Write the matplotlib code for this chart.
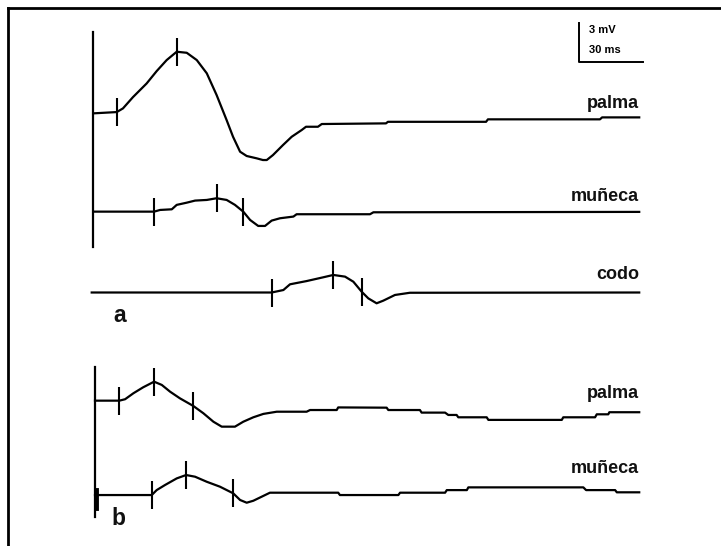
import numpy as np
import matplotlib
matplotlib.use("Agg")
import matplotlib.pyplot as plt
from matplotlib.lines import Line2D

# ---------------- data (time in ms, amplitude in mV) ----------------
palma_a_t = [0, 11.0, 13.9, 18.6, 25.0, 29.7, 34.4, 39.1, 43.8, 48.5, 53.2, 57.8, 62.5, 65.5,
             68.8, 71.9, 76.6, 79.5, 81.3, 84.2, 88.9, 93.0, 97.7, 99.7, 105.3, 107.1, 137.2,
             138.1, 184.1, 185.0, 237.5, 238.5, 255.9]
palma_a_v = [0, 0.1, 0.38, 1.25, 2.30, 3.25, 4.10, 4.74, 4.66, 4.10, 3.08, 1.41, -0.52, -1.80,
             -2.95, -3.28, -3.46, -3.59, -3.59, -3.21, -2.44, -1.80, -1.28, -1.03, -1.03, -0.82,
             -0.77, -0.65, -0.65, -0.46, -0.46, -0.31, -0.31]
palma_a_marks = [11.0, 39.1]

muneca_a_t = [0, 28.5, 31.3, 36.8, 39.1, 43.8, 47.7, 53.2, 57.8, 62.5, 66.4, 70.3, 73.5, 77.3,
              80.5, 83.6, 87.5, 93.8, 95.3, 129.7, 131.3, 255.9]
muneca_a_v = [0, 0, 0.13, 0.18, 0.52, 0.69, 0.85, 0.90, 1.03, 0.90, 0.52, 0, -0.64, -1.10,
              -1.10, -0.69, -0.51, -0.38, -0.20, -0.20, -0.05, -0.02]
muneca_a_marks = [28.5, 57.8, 70.3]

codo_t = [-0.75, 83.6, 89.1, 92.2, 100.0, 107.8, 112.5, 118.0, 121.9, 125.8, 128.9, 132.8,
          135.9, 141.4, 148.4, 255.9]
codo_v = [0, 0, 0.19, 0.63, 0.88, 1.17, 1.35, 1.22, 0.83, 0.06, -0.45, -0.83, -0.63, -0.19,
          -0.02, 0]
codo_marks = [83.6, 112.5, 125.8]

palma_b_t = [0.8, 12.2, 14.9, 18.8, 23.4, 28.5, 32.1, 36.0, 40.6, 46.9, 51.6, 56.3, 60.2, 66.4,
             70.3, 75.0, 79.7, 86.0, 100.0, 101.6, 114.1, 114.8, 137.5, 138.3, 153.1, 153.9,
             164.9, 166.4, 170.3, 171.1, 184.4, 185.2, 219.6, 220.3, 235.2, 236.0, 241.4, 241.9,
             255.9]
palma_b_v = [0, 0, 0.11, 0.57, 1.03, 1.46, 1.21, 0.69, 0.18, -0.41, -0.97, -1.62, -2.00, -2.00,
             -1.62, -1.28, -1.02, -0.85, -0.85, -0.72, -0.72, -0.52, -0.54, -0.72, -0.72, -0.92,
             -0.92, -1.10, -1.10, -1.28, -1.28, -1.48, -1.48, -1.28, -1.28, -1.05, -1.05, -0.89,
             -0.89]
palma_b_marks = [12.2, 28.5, 46.9]

muneca_b_t = [0.8, 27.4, 29.7, 33.6, 39.1, 43.5, 47.7, 53.2, 59.4, 65.6, 68.8, 71.9, 75.0, 78.9,
              82.8, 114.8, 115.6, 143.0, 143.8, 164.9, 165.7, 175.1, 175.8, 229.7, 231.0, 244.6,
              245.4, 255.9]
muneca_b_v = [0, 0, 0.38, 0.77, 1.28, 1.54, 1.41, 1.02, 0.64, 0.13, -0.38, -0.59, -0.44, -0.13,
              0.18, 0.18, 0, 0, 0.18, 0.18, 0.38, 0.38, 0.59, 0.59, 0.38, 0.38, 0.21, 0.21]
muneca_b_marks = [27.4, 43.5, 65.6]

labels = ["palma", "muñeca", "codo", "palma", "muñeca"]
scale_mv = 3
scale_ms = 30

# ---------------- layout ----------------
W, H, DPI = 721, 546, 100
PX_MS = 64 / 30.0
PX_MV = 13.0
X0 = 93.3
XLIM = (-X0 / PX_MS, (W - X0) / PX_MS)
YLIM = (0, H / PX_MV)

bases = [33.28, 25.72, 19.50, 11.18, 3.92]
label_y = [33.72, 26.55, 20.55, 11.40, 5.62]
label_x = 255.9

fig = plt.figure(figsize=(W / DPI, H / DPI), dpi=DPI)
ax = fig.add_axes([0, 0, 1, 1])
ax.set_xlim(*XLIM)
ax.set_ylim(*YLIM)
ax.axis("off")

FONT = "Liberation Sans"
LW = 1.6

traces = [(palma_a_t, palma_a_v, palma_a_marks),
          (muneca_a_t, muneca_a_v, muneca_a_marks),
          (codo_t, codo_v, codo_marks),
          (palma_b_t, palma_b_v, palma_b_marks),
          (muneca_b_t, muneca_b_v, muneca_b_marks)]

for (t, v, m), base, lab, ly in zip(traces, bases, labels, label_y):
    t = np.asarray(t)
    v = np.asarray(v)
    ax.plot(t, base + v, color="black", lw=LW, solid_joinstyle="round")
    m = np.asarray(m)
    ax.plot(m, base + np.interp(m, t, v), ls="none", marker="|", ms=20.5,
            mew=1.5, color="black")
    ax.text(label_x, ly, lab, ha="right", va="baseline", fontsize=13,
            fontweight="bold", family=FONT, color="#111111")

# vertical reference lines
ax.plot([0, 0], [23.0, 39.54], color="black", lw=LW)
ax.plot([0.8, 0.8], [2.25, 13.79], color="black", lw=LW)
ax.plot([1.4, 1.4], [2.9, 4.3], color="black", lw=3.5)

# panel letters
ax.text(9.2, 17.25, "a", ha="left", va="baseline", fontsize=16.5, fontweight="bold",
        family=FONT, color="#111111")
ax.text(8.6, 1.6, "b", ha="left", va="baseline", fontsize=16.5, fontweight="bold",
        family=FONT, color="#111111")

# scale bar
sx, sy = 227.7, 37.25
ax.plot([sx, sx, sx + scale_ms], [sy + scale_mv, sy, sy], color="black", lw=1.4)
ax.text(sx + 4.6, 39.45, f"{scale_mv} mV", ha="left", va="baseline", fontsize=8,
        fontweight="bold", family=FONT)
ax.text(sx + 4.6, 37.9, f"{scale_ms} ms", ha="left", va="baseline", fontsize=8,
        fontweight="bold", family=FONT)

# frame (top and left edges only)
fig.add_artist(Line2D([8.3 / W, 8.3 / W], [0, 1 - 8.3 / H], transform=fig.transFigure,
                      color="black", lw=2.0))
fig.add_artist(Line2D([8.3 / W, 1], [1 - 8.3 / H, 1 - 8.3 / H], transform=fig.transFigure,
                      color="black", lw=2.0))

fig.savefig("out.png", dpi=DPI)
